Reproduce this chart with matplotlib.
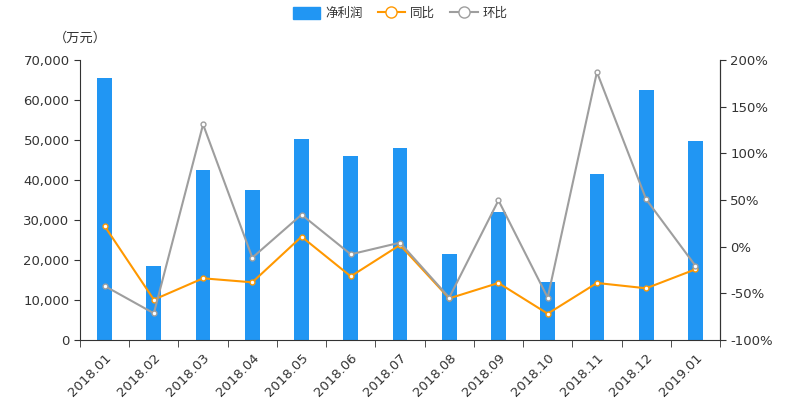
import matplotlib
matplotlib.use("Agg")
import matplotlib.pyplot as plt
from matplotlib.ticker import FuncFormatter, FixedLocator
from matplotlib.lines import Line2D
from matplotlib.patches import Patch

plt.rcParams['font.family'] = ['DejaVu Sans', 'Noto Sans CJK SC']

categories = ["2018.01", "2018.02", "2018.03", "2018.04", "2018.05", "2018.06", "2018.07",
              "2018.08", "2018.09", "2018.10", "2018.11", "2018.12", "2019.01"]
net_profit = [65500, 18500, 42600, 37500, 50200, 46000, 48000, 21500, 32000, 14500, 41600, 62500, 49750]
yoy = [22.1, -56.8, -33.9, -38.2, 10.7, -31.8, 1.8, -55.4, -38.9, -71.8, -38.9, -44.6, -24.3]
mom = [-42.1, -71.4, 131.0, -11.8, 34.3, -8.2, 4.3, -54.6, 49.6, -54.6, 187.0, 50.7, -20.4]

bar_color = "#2196F3"
yoy_color = "#FF9800"
mom_color = "#9E9E9E"
text_color = "#333333"

fig = plt.figure(figsize=(8, 4), dpi=100)
ax = fig.add_axes([0.1, 0.15, 0.8, 0.7])
ax2 = ax.twinx()

x = list(range(len(categories)))
ax.bar(x, net_profit, width=0.3, color=bar_color, zorder=2)
ax.set_xlim(-0.5, len(categories) - 0.5)
ax.set_ylim(0, 70000)
ax.set_yticks(range(0, 70001, 10000))
ax.yaxis.set_major_formatter(FuncFormatter(lambda v, p: f"{int(v):,}"))

ax.set_xticks(x)
ax.set_xticklabels(categories, rotation=45, ha='right', rotation_mode='anchor')
ax.xaxis.set_minor_locator(FixedLocator([i - 0.5 for i in range(len(categories) + 1)]))
ax.tick_params(axis='x', which='major', length=0, pad=8)
ax.tick_params(axis='x', which='minor', length=5, color=text_color)

ax2.plot(x, yoy, color=yoy_color, lw=1.5, marker='o', ms=3.5, mfc='white', mec=yoy_color, mew=1, zorder=3)
ax2.plot(x, mom, color=mom_color, lw=1.5, marker='o', ms=3.5, mfc='white', mec=mom_color, mew=1, zorder=3)
ax2.set_ylim(-100, 200)
ax2.set_yticks(range(-100, 201, 50))
ax2.yaxis.set_major_formatter(FuncFormatter(lambda v, p: f"{int(v)}%"))

for a in (ax, ax2):
    a.spines['top'].set_visible(False)
    for s in ('left', 'right', 'bottom'):
        a.spines[s].set_color(text_color)
    a.tick_params(axis='y', colors=text_color, labelsize=9.5, length=4)
    a.tick_params(axis='x', colors=text_color, labelsize=9.5)
ax2.spines['left'].set_visible(False)
ax2.spines['bottom'].set_visible(False)

fig.text(0.1, 0.905, "（万元）", ha='center', va='center', fontsize=9.5, color=text_color,
         family=['Noto Sans CJK SC', 'DejaVu Sans'], fontweight='medium')

handles = [
    Patch(facecolor=bar_color, edgecolor=bar_color, label="净利润"),
    Line2D([0], [0], color=yoy_color, lw=1.5, marker='o', ms=8, mfc='white', mec=yoy_color, label="同比"),
    Line2D([0], [0], color=mom_color, lw=1.5, marker='o', ms=8, mfc='white', mec=mom_color, label="环比"),
]
fig.legend(handles=handles, loc='upper center', bbox_to_anchor=(0.5, 1.01), ncol=3, frameon=False,
           handlelength=2.2, handleheight=1.0, columnspacing=1.2, handletextpad=0.4,
           labelcolor=text_color, prop={'family': ['Noto Sans CJK SC', 'DejaVu Sans'], 'size': 9})

fig.savefig("out.png", dpi=100)
